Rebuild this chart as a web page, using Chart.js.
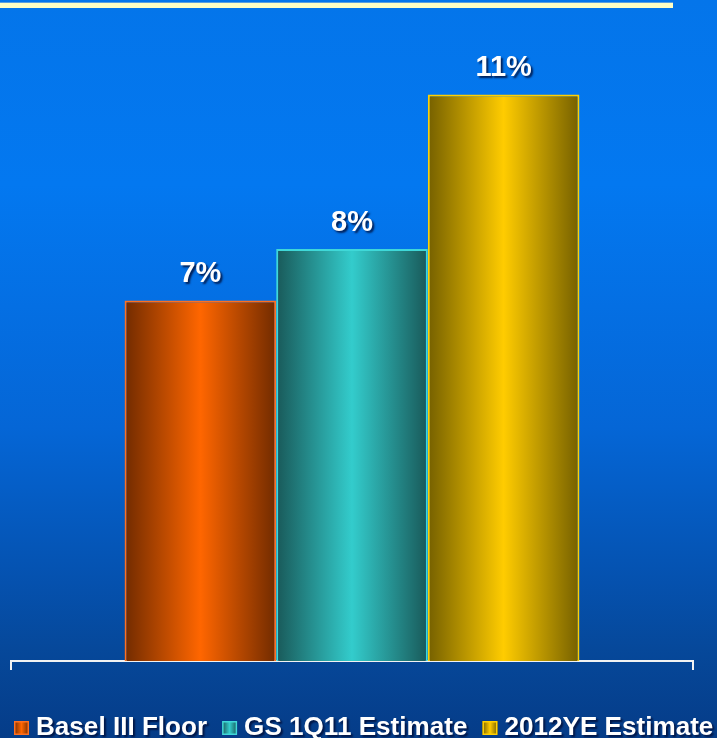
<!DOCTYPE html>
<html>
<head>
<meta charset="utf-8">
<script src="https://cdn.jsdelivr.net/npm/chart.js@4"></script>
<style>
html,body{margin:0;padding:0;overflow:hidden;background:#053a86;}
canvas{display:block;}
</style>
</head>
<body>
<canvas id="myChart" width="717" height="738"></canvas>
<script>
// one category, three side-by-side series
const categories = [''];
const seriesNames = ['Basel III Floor', 'GS 1Q11 Estimate', '2012YE Estimate'];
const seriesValues = [7, 8, 11];
const yMax = 12.25;

const darkColors = ['#712b00', '#195959', '#756000'];
const brightColors = ['#ff6600', '#33cccc', '#ffcc00'];
const edgeColors = ['#ff7020', '#3fd8d8', '#ffd000'];

const FONT = "'Liberation Sans', Arial, sans-serif";

function shade(ctx, left, right, i) {
    const g = ctx.createLinearGradient(left, 0, right, 0);
    g.addColorStop(0, darkColors[i]);
    g.addColorStop(0.5, brightColors[i]);
    g.addColorStop(1, darkColors[i]);
    return g;
}

function withShadow(ctx) {
    ctx.shadowColor = 'rgba(0,10,50,0.8)';
    ctx.shadowOffsetX = 2;
    ctx.shadowOffsetY = 2;
    ctx.shadowBlur = 2;
}

// blue backdrop plus the pale rule along the top
const backdrop = {
    id: 'backdrop',
    beforeDraw(chart) {
        const ctx = chart.ctx;
        const g = ctx.createLinearGradient(0, 0, 0, chart.height);
        g.addColorStop(0, '#0475ea');
        g.addColorStop(0.25, '#0378f0');
        g.addColorStop(0.58, '#0566d6');
        g.addColorStop(0.78, '#0552b0');
        g.addColorStop(0.88, '#06489a');
        g.addColorStop(1, '#053c88');
        ctx.save();
        ctx.fillStyle = g;
        ctx.fillRect(0, 0, chart.width, chart.height);
        ctx.fillStyle = '#5aa0e0';
        ctx.fillRect(0, 2, 673, 1);
        ctx.fillStyle = '#ffffc4';
        ctx.fillRect(0, 3, 673, 5);
        ctx.restore();
    }
};

// horizontal light-in-the-middle gradient on every bar
const barShading = {
    id: 'barShading',
    beforeDatasetsDraw(chart) {
        chart.data.datasets.forEach((ds, i) => {
            chart.getDatasetMeta(i).data.forEach(bar => {
                const p = bar.getProps(['x', 'width'], true);
                bar.options = Object.assign({}, bar.options, {
                    backgroundColor: shade(chart.ctx, p.x - p.width / 2, p.x + p.width / 2, i)
                });
            });
        });
    }
};

// value labels over the bars
const valueLabels = {
    id: 'valueLabels',
    afterDatasetsDraw(chart) {
        const ctx = chart.ctx;
        ctx.save();
        ctx.font = 'bold 29px ' + FONT;
        ctx.fillStyle = '#ffffff';
        ctx.textAlign = 'center';
        ctx.textBaseline = 'alphabetic';
        withShadow(ctx);
        chart.data.datasets.forEach((ds, i) => {
            chart.getDatasetMeta(i).data.forEach((bar, j) => {
                ctx.fillText(ds.data[j] + '%', bar.x, bar.y - 18);
            });
        });
        ctx.restore();
    }
};

// legend row along the bottom, left aligned
const bottomLegend = {
    id: 'bottomLegend',
    afterDraw(chart) {
        const ctx = chart.ctx;
        let x = 14;
        const y = 735;
        ctx.save();
        ctx.font = 'bold 26.1px ' + FONT;
        ctx.textBaseline = 'alphabetic';
        chart.data.datasets.forEach((ds, i) => {
            ctx.fillStyle = shade(ctx, x, x + 15, i);
            ctx.fillRect(x, y - 14, 15, 14);
            ctx.strokeStyle = edgeColors[i];
            ctx.lineWidth = 1.5;
            ctx.strokeRect(x + 0.75, y - 13.25, 13.5, 12.5);
            x += 22;
            ctx.save();
            withShadow(ctx);
            ctx.fillStyle = '#ffffff';
            ctx.fillText(ds.label, x, y);
            ctx.restore();
            x += ctx.measureText(ds.label).width + 15;
        });
        ctx.restore();
    }
};

const ctx = document.getElementById('myChart').getContext('2d');
const myChart = new Chart(ctx, {
    type: 'bar',
    data: {
        labels: categories,
        datasets: seriesNames.map((name, i) => ({
            label: name,
            data: [seriesValues[i]],
            backgroundColor: brightColors[i],
            borderColor: edgeColors[i],
            borderWidth: 2,
            barPercentage: 1,
            categoryPercentage: 0.667
        }))
    },
    options: {
        responsive: false,
        animation: false,
        devicePixelRatio: 1,
        layout: { padding: { top: 30, left: 11, right: 24, bottom: 68 } },
        plugins: {
            legend: { display: false },
            tooltip: { enabled: false }
        },
        scales: {
            x: {
                z: 1,
                grid: {
                    display: true,
                    drawOnChartArea: false,
                    drawTicks: true,
                    tickLength: 9,
                    color: '#f2f2f2',
                    lineWidth: 2,
                    offset: true
                },
                border: { display: true, color: '#f2f2f2', width: 2 },
                ticks: { display: false }
            },
            y: {
                display: false,
                min: 0,
                max: yMax
            }
        }
    },
    plugins: [backdrop, barShading, valueLabels, bottomLegend]
});
</script>
</body>
</html>
